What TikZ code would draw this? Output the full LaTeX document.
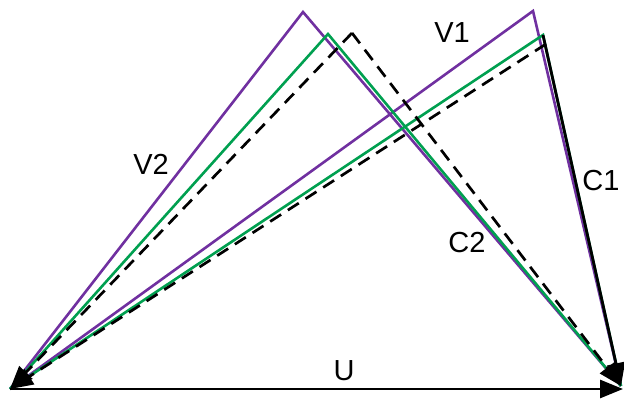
\documentclass[tikz,border=0pt]{standalone}
\usepackage{fontspec}
\setmainfont{Liberation Sans}
\usetikzlibrary{arrows.meta}
\definecolor{vpurple}{RGB}{112,48,160}
\definecolor{vgreen}{RGB}{0,160,80}
\tikzset{
  purp/.style={draw=vpurple, line width=2.6pt},
  grn/.style={draw=vgreen, line width=2.6pt},
  dsh/.style={draw=black, line width=2.7pt, dash pattern=on 13pt off 8pt},
  blk/.style={draw=black, line width=2.8pt},
  tip/.style={-{Triangle[length=23pt,width=18pt]}},
  lbl/.style={font=\fontsize{29}{34}\selectfont, inner sep=0pt}
}
\begin{document}
\begin{tikzpicture}[x=1pt,y=-1pt]
\useasboundingbox (0,0) rectangle (624,401);
% key points
\coordinate (O) at (10,389);
\coordinate (R) at (623,389);
\coordinate (Rc) at (621,386);
\coordinate (Pa) at (303,12);
\coordinate (Pb) at (533,11);
\coordinate (Ga) at (328,34);
\coordinate (Gb) at (543,35);
\coordinate (Da) at (352,33);
\coordinate (Db) at (546,44);
% purple triangles
\draw[purp] (O) -- (Pa) -- (Rc);
\draw[purp] (O) -- (Pb) -- (Rc);
% green triangles
\draw[grn] (O) -- (Ga) -- (Rc);
\draw[grn] (O) -- (Gb) -- (Rc);
% dashed
\draw[dsh, tip] (Da) -- (O);
\draw[dsh, tip] (Db) -- (O);
\draw[dsh, tip] (Da) -- (Rc);
% black C1
\draw[blk, tip] (Gb) -- (Rc);
% U
\draw[blk, tip] (O) -- (R);
% labels
\node[lbl] (lv2) at (151,164) {V2};
\node[lbl] (lv1) at (452,33) {V1};
\node[lbl] (lc1) at (601,181) {C1};
\node[lbl] (lc2) at (467,243) {C2};
\node[lbl] (lu) at (344,371) {U};
\end{tikzpicture}
\end{document}
